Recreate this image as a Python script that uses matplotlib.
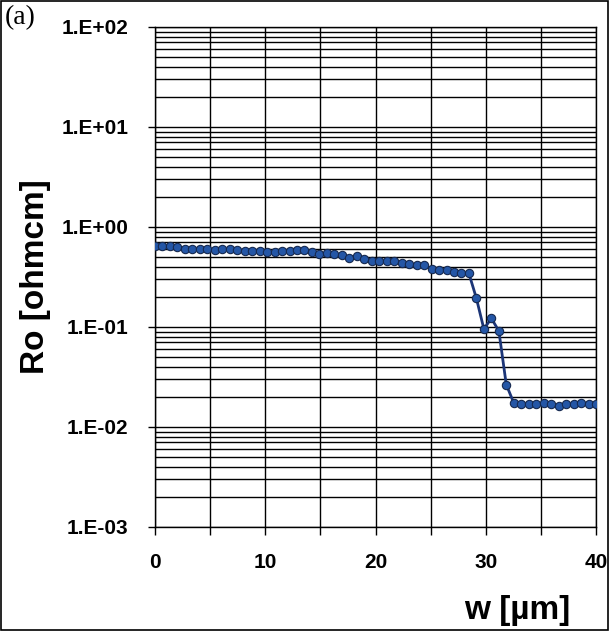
import numpy as np
import matplotlib
matplotlib.use('Agg')
import matplotlib.pyplot as plt
from matplotlib.ticker import FixedLocator, LogLocator, FuncFormatter
from matplotlib.patches import Rectangle

# depth w [um] and resistivity Ro [ohm cm]
w = [0.00, 0.68, 1.36, 2.03, 2.71, 3.39, 4.07, 4.75, 5.42, 6.10,
     6.78, 7.46, 8.14, 8.81, 9.49, 10.17, 10.85, 11.53, 12.20, 12.88,
     13.56, 14.24, 14.92, 15.59, 16.27, 16.95, 17.63, 18.31, 18.98, 19.66,
     20.34, 21.02, 21.69, 22.37, 23.05, 23.73, 24.41, 25.08, 25.76, 26.44,
     27.12, 27.80, 28.47, 29.15, 29.83, 30.51, 31.19, 31.86, 32.54, 33.22,
     33.90, 34.58, 35.25, 35.93, 36.61, 37.29, 37.97, 38.64, 39.32, 40.00]
ro = [0.646, 0.646, 0.646, 0.628, 0.603, 0.603, 0.603, 0.596, 0.589, 0.596,
      0.596, 0.589, 0.569, 0.575, 0.575, 0.566, 0.556, 0.575, 0.582, 0.589,
      0.589, 0.566, 0.537, 0.550, 0.533, 0.522, 0.492, 0.509, 0.479, 0.460,
      0.462, 0.452, 0.452, 0.440, 0.425, 0.417, 0.417, 0.383, 0.374, 0.372,
      0.357, 0.344, 0.344, 0.194, 0.0955, 0.122, 0.0912, 0.0266, 0.0174, 0.0170,
      0.0170, 0.0170, 0.0173, 0.0170, 0.0163, 0.0169, 0.0169, 0.0175, 0.0169, 0.0169]

xticks = [0, 10, 20, 30, 40]
yticks = [1e-3, 1e-2, 1e-1, 1e0, 1e1, 1e2]

plt.rcParams['font.family'] = 'Liberation Sans'

fig = plt.figure(figsize=(6.09, 6.31), dpi=100)
ax = fig.add_axes([155/609, 1-527/631, 441/609, 500/631])

ax.plot(w, ro, '-o', color='#1c3577', lw=2.0, ms=6,
        markerfacecolor='#2456a6', markeredgecolor='#16294f', markeredgewidth=0.8,
        zorder=3)

ax.set_yscale('log')
ax.set_xlim(0, 40)
ax.set_ylim(1e-3, 1e2)

ax.xaxis.set_major_locator(FixedLocator(xticks))
ax.xaxis.set_minor_locator(FixedLocator([5, 15, 25, 35]))
ax.yaxis.set_major_locator(FixedLocator(yticks))
ax.yaxis.set_minor_locator(LogLocator(base=10, subs=np.arange(2, 10)))
ax.yaxis.set_minor_formatter(FuncFormatter(lambda v, p: ''))
ax.yaxis.set_major_formatter(FuncFormatter(lambda v, p: '1.E%+03d' % int(round(np.log10(v)))))

ax.grid(True, which='both', axis='both', color='black', lw=1.0)
ax.tick_params(axis='x', which='both', direction='out', length=5.8, width=1.0,
               pad=13, labelsize=15)
ax.tick_params(axis='y', which='major', direction='out', length=5, width=1.0,
               pad=14, labelsize=15)
ax.tick_params(axis='y', which='minor', length=0)
for lab in ax.get_xticklabels() + ax.get_yticklabels():
    lab.set_fontweight('bold')
for s in ax.spines.values():
    s.set_linewidth(1.0)

fig.text(36/609, 1-277/631, 'Ro [ohmcm]', fontsize=24, fontweight='bold',
         rotation=90, ha='center', va='center')
fig.text(517/609, 1-610/631, 'w [µm]', fontsize=24, fontweight='bold',
         ha='center', va='center')
fig.text(5/609, 1-18/631, '(a)', fontsize=20, family='Liberation Serif',
         ha='left', va='center')

fig.patches.append(Rectangle((0.001, 0.001), 0.997, 0.997, transform=fig.transFigure,
                             fill=False, edgecolor='black', lw=1.2))

fig.savefig('out.png', dpi=100)
